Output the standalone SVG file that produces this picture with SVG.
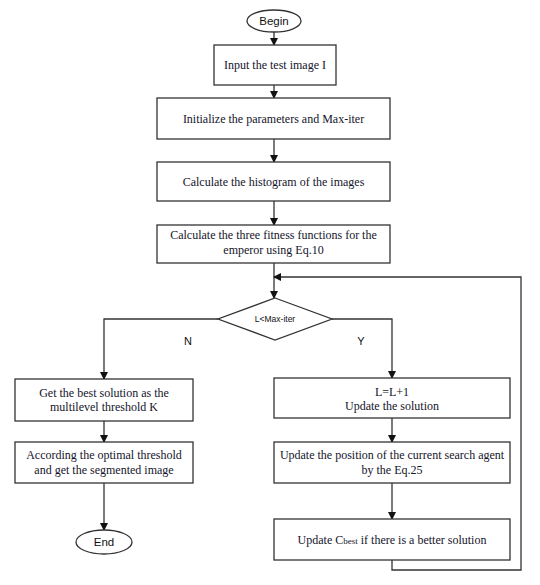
<svg xmlns="http://www.w3.org/2000/svg" width="540" height="585" viewBox="0 0 540 585">
<defs>
<marker id="ah" markerWidth="8" markerHeight="8" refX="7" refY="4" orient="auto" markerUnits="userSpaceOnUse">
<path d="M0,0 L8,4 L0,8 Z" fill="#111"/>
</marker>
<style>
.box{fill:#fff;stroke:#333;stroke-width:1.3}
.t{font-family:"Liberation Serif","Times New Roman",serif;font-size:12px;fill:#14142b;text-anchor:middle}
.s{font-family:"Liberation Sans",Arial,sans-serif;fill:#111;text-anchor:middle}
.c{fill:none;stroke:#333;stroke-width:1.3}
</style>
</defs>
<rect width="540" height="585" fill="#fff"/>
<g id="connectors">
<path class="c" d="M274,32 V45" marker-end="url(#ah)"/>
<path class="c" d="M274,85 V98" marker-end="url(#ah)"/>
<path class="c" d="M274,139 V162" marker-end="url(#ah)"/>
<path class="c" d="M274,201 V225" marker-end="url(#ah)"/>
<path class="c" d="M274,263 V298" marker-end="url(#ah)"/>
<path class="c" d="M218,319 H104 V379" marker-end="url(#ah)"/>
<path class="c" d="M332,319 H392 V378" marker-end="url(#ah)"/>
<path class="c" d="M104,421 V442" marker-end="url(#ah)"/>
<path class="c" d="M104,483 V530" marker-end="url(#ah)"/>
<path class="c" d="M392,418 V442" marker-end="url(#ah)"/>
<path class="c" d="M392,483 V519" marker-end="url(#ah)"/>
<path class="c" d="M392,560 V570 H521 V277 H274" marker-end="url(#ah)"/>
<text class="s" x="188" y="345" font-size="11">N</text>
<text class="s" x="361" y="345" font-size="11">Y</text>
</g>
<g id="begin">
<ellipse class="box" cx="274" cy="21" rx="27" ry="11"/>
<text class="s" x="274" y="25" font-size="11.5">Begin</text>
</g>
<g id="input">
<rect class="box" x="214" y="45" width="122" height="40"/>
<text class="t" x="275" y="69">Input the test image I</text>
</g>
<g id="init">
<rect class="box" x="157" y="98" width="233" height="41"/>
<text class="t" x="273.5" y="123">Initialize the parameters and Max-iter</text>
</g>
<g id="hist">
<rect class="box" x="157" y="162" width="233" height="39"/>
<text class="t" x="273.5" y="186">Calculate the histogram of the images</text>
</g>
<g id="fitness">
<rect class="box" x="157" y="225" width="233" height="38"/>
<text class="t" x="273.5" y="239">Calculate the three fitness functions for the</text>
<text class="t" x="273.5" y="254">emperor using Eq.10</text>
</g>
<g id="decision">
<path class="box" d="M275,298 L332,319 L275,340 L218,319 Z"/>
<text class="s" x="275" y="322" font-size="8.5">L&lt;Max-iter</text>
</g>
<g id="best">
<rect class="box" x="15" y="379" width="178" height="42"/>
<text class="t" x="104" y="397">Get the best solution as the</text>
<text class="t" x="104" y="411">multilevel threshold K</text>
</g>
<g id="segment">
<rect class="box" x="15" y="442" width="178" height="41"/>
<text class="t" x="104" y="459">According the optimal threshold</text>
<text class="t" x="104" y="474">and get the segmented image</text>
</g>
<g id="end">
<ellipse class="box" cx="104" cy="542" rx="28" ry="12"/>
<text class="s" x="104" y="546" font-size="11.5">End</text>
</g>
<g id="update">
<rect class="box" x="274" y="378" width="236" height="40"/>
<text class="t" x="392" y="396">L=L+1</text>
<text class="t" x="392" y="410">Update the solution</text>
</g>
<g id="position">
<rect class="box" x="274" y="442" width="236" height="41"/>
<text class="t" x="392" y="459">Update the position of the current search agent</text>
<text class="t" x="392" y="474">by the Eq.25</text>
</g>
<g id="cbest">
<rect class="box" x="274" y="519" width="236" height="41"/>
<text class="t" x="392" y="544">Update C<tspan font-size="9">best</tspan> if there is a better solution</text>
</g>
</svg>
